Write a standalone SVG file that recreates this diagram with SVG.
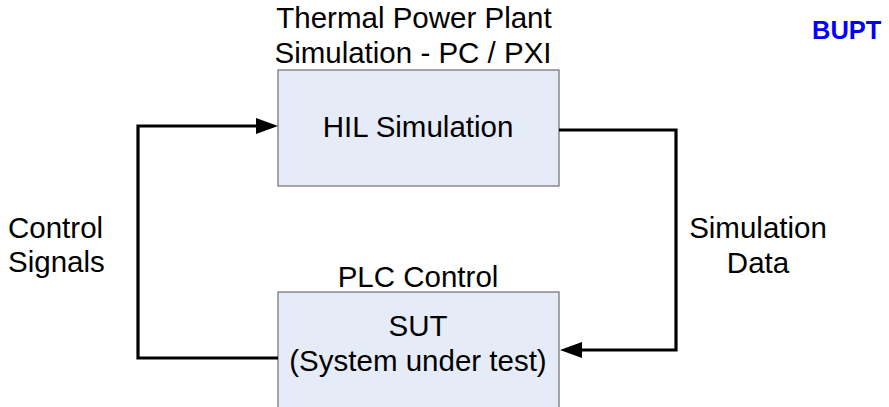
<svg xmlns="http://www.w3.org/2000/svg" width="889" height="407" viewBox="0 0 889 407">
<defs>
<style>
.box{fill:#e6ecf7;stroke:#6e6e6e;stroke-width:1.2}
.t{font-family:"Liberation Sans",Arial,sans-serif;font-size:29.5px;fill:#000}
.c{text-anchor:middle}
.wire{fill:none;stroke:#000;stroke-width:3.2;stroke-linejoin:miter}
</style>
</defs>
<rect width="889" height="407" fill="#fff"/>
<g id="hil">
<rect class="box" x="278" y="70" width="281" height="116"/>
<text class="t c" x="414" y="28">Thermal Power Plant</text>
<text class="t c" x="413" y="63">Simulation - PC / PXI</text>
<text class="t c" x="418" y="137">HIL Simulation</text>
</g>
<g id="sut">
<rect class="box" x="278" y="292" width="281" height="125"/>
<text class="t c" x="418" y="287">PLC Control</text>
<text class="t c" x="418" y="336">SUT</text>
<text class="t c" x="418" y="371">(System under test)</text>
</g>
<g id="labels">
<text class="t" x="8" y="238">Control</text>
<text class="t" x="8" y="272">Signals</text>
<text class="t c" x="758" y="238">Simulation</text>
<text class="t c" x="758" y="273">Data</text>
<text x="812" y="39" font-family="Liberation Sans,Arial,sans-serif" font-weight="bold" font-size="25.5" fill="#0000ff">BUPT</text>
</g>
<g id="connectors">
<path class="wire" d="M278,358 H138 V126 H256"/>
<path d="M256,118 L278,126 L256,134 Z" fill="#000"/>
<path class="wire" d="M559,130 H676 V350 H582"/>
<path d="M582,342 L560,350 L582,358 Z" fill="#000"/>
</g>
</svg>
